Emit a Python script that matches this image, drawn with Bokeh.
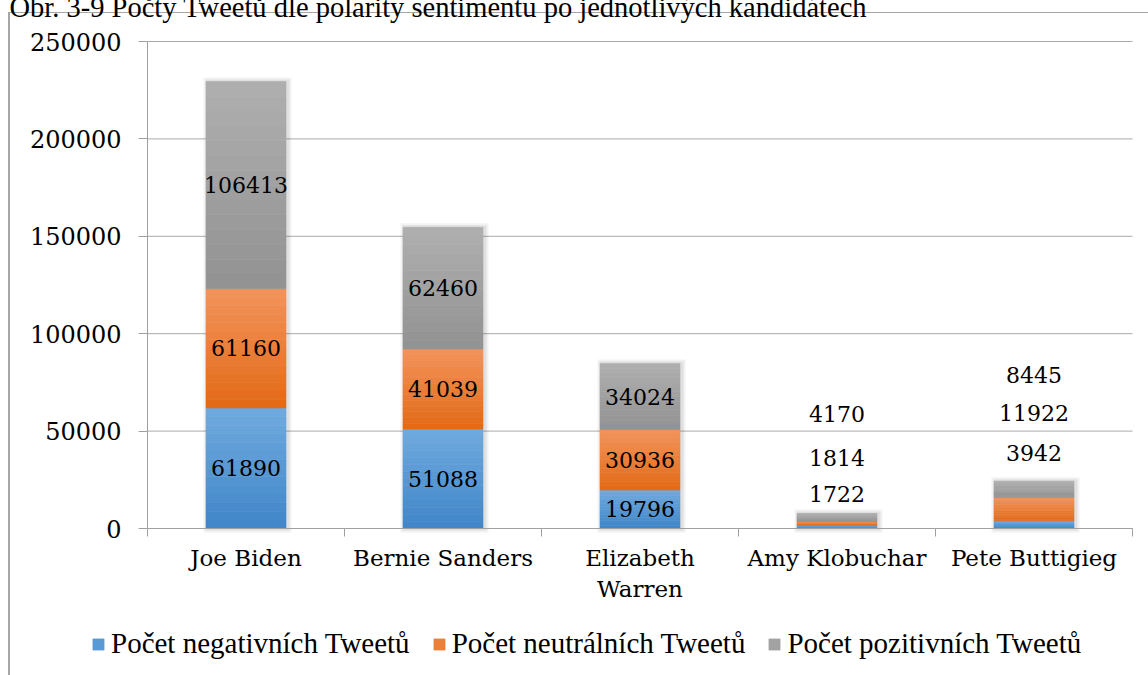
from bokeh.plotting import figure
from bokeh.models import (Range1d, FixedTicker, BasicTickFormatter, Legend, LegendItem,
                          Label, ColumnDataSource)
from bokeh.core.properties import value
from bokeh.embed import file_html
from bokeh.resources import INLINE

# ---------------- data ----------------
candidates = ["Joe Biden", "Bernie Sanders", "Elizabeth Warren", "Amy Klobuchar", "Pete Buttigieg"]
candidate_labels = ["Joe Biden", "Bernie Sanders", "Elizabeth\nWarren", "Amy Klobuchar", "Pete Buttigieg"]
negative = [61890, 51088, 19796, 1722, 3942]
neutral = [61160, 41039, 30936, 1814, 11922]
positive = [106413, 62460, 34024, 4170, 8445]
series_names = ["Počet negativních Tweetů", "Počet neutrálních Tweetů", "Počet pozitivních Tweetů"]
y_ticks = [0, 50000, 100000, 150000, 200000, 250000]
title_text = "Obr. 3-9 Počty Tweetů dle polarity sentimentu po jednotlivých kandidátech"

# ---------------- layout / styles ----------------
gradients = [("#70aade", "#3f86c9"), ("#f3935c", "#e26a15"), ("#afafaf", "#929292")]
label_offsets_px = [[0, 0, 0, -33, -72],
                    [0, 0, 0, -65, -96],
                    [0, 0, 0, -104, -114]]
PAGE_W, PAGE_H = 1148, 675
PLOT_LEFT, PLOT_RIGHT, PLOT_TOP, PLOT_BOTTOM = 147, 1132, 41, 528   # axes box in page pixels
FRAME_TOP = 0
LEFT_PANEL = 150
Y_MAX = 250000
n = len(candidates)
PX_Y = Y_MAX / (PLOT_BOTTOM - PLOT_TOP)
PX_X = n / (PLOT_RIGHT - PLOT_LEFT)
BAR_W = 80 * PX_X
STRIPS = 14
BOX_GRAY = "#a6a6a6"
GRID_GRAY = "#ababab"
AXIS_GRAY = "#a0a0a0"


def hex2rgb(h):
    h = h.lstrip("#")
    return tuple(int(h[i:i + 2], 16) for i in (0, 2, 4))


def mix(c_bottom, c_top, t):
    a, b = hex2rgb(c_bottom), hex2rgb(c_top)
    return "#%02x%02x%02x" % tuple(round(a[j] + (b[j] - a[j]) * t) for j in range(3))


centers = [i + 0.5 for i in range(n)]
boundaries = list(range(n + 1))
series = [negative, neutral, positive]
totals = [sum(v) for v in zip(*series)]

# the frame covers the whole visible page so that legend & labels are never clipped
x_range = Range1d(-PLOT_LEFT * PX_X, (PAGE_W - PLOT_LEFT) * PX_X)
y_range = Range1d(-(PAGE_H - PLOT_BOTTOM) * PX_Y, Y_MAX + (PLOT_TOP - FRAME_TOP) * PX_Y)

p = figure(frame_width=PAGE_W, frame_height=PAGE_H - FRAME_TOP,
           x_range=x_range, y_range=y_range,
           output_backend="svg", toolbar_location=None,
           min_border_left=LEFT_PANEL, min_border_right=0, min_border_top=FRAME_TOP,
           min_border_bottom=0)
p.styles = {
    "margin-left": "-%dpx" % LEFT_PANEL,
    "background-color": "white",
    "background-image": "linear-gradient(%s, %s), linear-gradient(%s, %s)" % ((BOX_GRAY,) * 4),
    "background-size": "2px 100%, 100% 1px",
    "background-position": "%dpx 12px, %dpx 12px" % (LEFT_PANEL + 8, LEFT_PANEL + 8),
    "background-repeat": "no-repeat",
}
p.background_fill_color = None
p.border_fill_color = None
p.outline_line_color = None

# horizontal grid lines at the tick values
p.segment(x0=0, x1=n, y0=y_ticks, y1=y_ticks, line_color=GRID_GRAY, line_width=1,
          level="underlay")

# soft shadow around bars
for grow, alpha in ((8, 0.05), (4, 0.07)):
    p.vbar(x=[c + 1.5 * PX_X for c in centers], top=[t + grow / 2 * PX_Y for t in totals],
           bottom=-grow / 2 * PX_Y, width=BAR_W + grow * PX_X, fill_color="#000000",
           fill_alpha=alpha, line_color=None)

bottoms = [0] * n
renderers = []
lx, ly, ltxt, ldy = [], [], [], []
for s, vals in enumerate(series):
    xs, b0, t0, cols = [], [], [], []
    top_c, bot_c = gradients[s]
    for i, v in enumerate(vals):
        b = bottoms[i]
        for k in range(STRIPS):
            xs.append(centers[i])
            b0.append(b + v * k / STRIPS)
            t0.append(b + v * (k + 1) / STRIPS)
            cols.append(mix(bot_c, top_c, (k + 0.5) / STRIPS))
        lx.append(centers[i])
        ly.append(b + v / 2)
        ltxt.append(str(v))
        ldy.append(label_offsets_px[s][i])
        bottoms[i] = b + v
    src = ColumnDataSource(dict(x=xs, bottom=b0, top=t0, color=cols))
    r = p.vbar(x="x", bottom="bottom", top="top", width=BAR_W, fill_color="color",
               line_color="color", line_width=0.6, source=src)
    renderers.append(r)

p.text(x=lx, y=ly, text=ltxt, y_offset=ldy, text_align="center", text_baseline="middle",
       text_font=value("DejaVu Serif"), text_font_size="22px", text_color="black")

# axes, pinned at the data origin
p.xgrid.visible = False
p.ygrid.visible = False

p.yaxis.fixed_location = 0
p.yaxis.bounds = (0, Y_MAX)
p.yaxis.ticker = FixedTicker(ticks=y_ticks)
p.yaxis.formatter = BasicTickFormatter(use_scientific=False)
p.yaxis.major_label_text_font = "DejaVu Serif"
p.yaxis.major_label_text_font_size = "24px"
p.yaxis.major_label_text_color = "black"
p.yaxis.major_tick_out = 9
p.yaxis.major_tick_in = 0
p.yaxis.minor_tick_line_color = None
p.yaxis.major_label_standoff = 17
p.yaxis.axis_line_color = AXIS_GRAY
p.yaxis.major_tick_line_color = AXIS_GRAY

p.xaxis.fixed_location = 0
p.xaxis.bounds = (0, n)
p.xaxis.ticker = FixedTicker(ticks=centers, minor_ticks=boundaries)
p.xaxis.major_label_overrides = {c: lab for c, lab in zip(centers, candidate_labels)}
p.xaxis.major_label_text_font = "DejaVu Serif"
p.xaxis.major_label_text_font_size = "23px"
p.xaxis.major_label_text_color = "black"
p.xaxis.major_tick_line_color = None
p.xaxis.minor_tick_out = 8
p.xaxis.minor_tick_in = 0
p.xaxis.minor_tick_line_color = AXIS_GRAY
p.xaxis.major_label_standoff = 8
p.xaxis.axis_line_color = AXIS_GRAY

# caption (the source picture shows it cut at the top edge); kept in a side panel
# (below, outside the visible page) so it is not clipped, positioned in canvas pixels
p.add_layout(Label(x=LEFT_PANEL + 9, y=7, x_units="canvas", y_units="canvas", text=title_text,
                   text_font="Liberation Serif", text_font_size="28.5px",
                   text_baseline="alphabetic", text_color="black"), "below")

items = [LegendItem(label=value(nm), renderers=[r], index=STRIPS // 2)
         for nm, r in zip(series_names, renderers)]
legend = Legend(items=items, location=(91, 15), orientation="horizontal",
                glyph_width=14, glyph_height=14, label_standoff=6, spacing=22,
                padding=0, margin=0, border_line_color=None, background_fill_alpha=0,
                label_text_font="Liberation Serif", label_text_font_size="29px",
                label_text_color="black")
p.add_layout(legend)

open("out.html", "w").write(file_html(p, INLINE))
